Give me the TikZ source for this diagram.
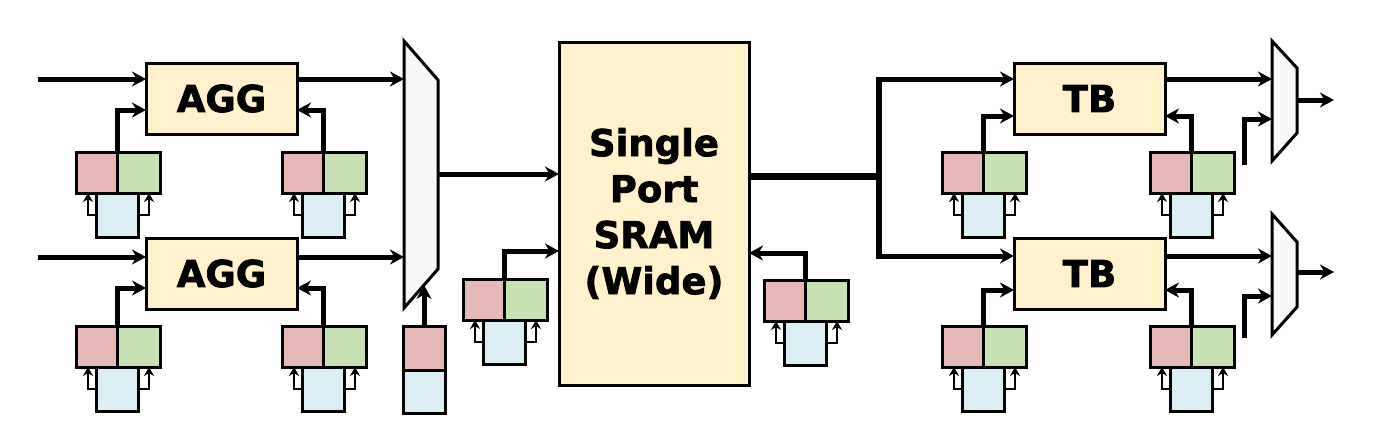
\documentclass[tikz,border=0pt]{standalone}
\usepackage{fontspec}
\setmainfont{DejaVu Sans}[BoldFeatures={FakeBold=2}]
\usetikzlibrary{calc,arrows.meta}
\definecolor{boxy}{HTML}{FFF2CC}
\definecolor{cred}{HTML}{E6B9B8}
\definecolor{cgreen}{HTML}{C7E0B4}
\definecolor{cblue}{HTML}{DAEEF3}
\definecolor{muxfill}{HTML}{F8F8F8}
\tikzset{
  base/.style={draw, line width=3pt, inner sep=0pt, outer sep=0pt, anchor=north west},
  blockbox/.style={base, fill=boxy, minimum width=151pt, minimum height=71pt, font=\bfseries\fontsize{37}{44}\selectfont},
  srambox/.style={base, fill=boxy, minimum width=190pt, minimum height=343pt, align=center, font=\bfseries\fontsize{37}{46}\selectfont},
  cellr/.style={base, fill=cred, minimum width=41pt, minimum height=41pt},
  cellg/.style={base, fill=cgreen, minimum width=43pt, minimum height=41pt},
  cellb/.style={base, fill=cblue, minimum width=42pt, minimum height=44pt},
  muxst/.style={draw, line width=3pt, fill=muxfill, line join=miter},
  arr/.style={line width=5pt, -{Stealth[length=14pt,width=15pt,inset=4.5pt]}},
  bigline/.style={line width=7pt},
  sarr/.style={line width=2.5pt, -{Stealth[length=9pt,width=10pt,inset=3pt]}},
}
\newcommand\cgrp[3]{%
  \node[cellr] (#1r) at (#2,#3) {};
  \node[cellg] (#1g) at (#1r.north east) {};
  \node[cellb] (#1b) at ($(#1r.south west)+(20,0)$) {};
  \draw[sarr] (#1b.west) -| ($(#1r.south west)+(12,0)$);
  \draw[sarr] (#1b.east) -| ($(#1g.south east)+(-11,0)$);
}
\begin{document}
\begin{tikzpicture}[x=1pt,y=-1pt]
\useasboundingbox (0,0) rectangle (1377,442);
% blocks
\node[blockbox] (agg1) at (146,63) {AGG};
\node[blockbox] (agg2) at (146,238) {AGG};
\node[blockbox] (tb1) at (1014,63) {TB};
\node[blockbox] (tb2) at (1014,238) {TB};
\node[srambox] (sram) at (559,42) {Single\\Port\\SRAM\\(Wide)};
% muxes
\draw[muxst] (404,41) -- (438,80) -- (438,269) -- (404,308) -- cycle;
\draw[muxst] (1272,41) -- (1297,68) -- (1297,133) -- (1272,161) -- cycle;
\draw[muxst] (1272,214) -- (1297,242) -- (1297,307) -- (1272,335) -- cycle;
\coordinate (m1a) at (404,79);
\coordinate (m1b) at (404,257);
\coordinate (m1o) at (438,174);
\coordinate (m1s) at (424,285);
\coordinate (m2a) at (1272,79);
\coordinate (m2b) at (1272,119);
\coordinate (m2o) at (1297,100);
\coordinate (m3a) at (1272,256);
\coordinate (m3b) at (1272,296);
\coordinate (m3o) at (1297,272);
% free ends
\coordinate (in1) at (38,79);
\coordinate (in2) at (38,257);
\coordinate (out1) at (1334,100);
\coordinate (out2) at (1334,272);
\coordinate (s2) at (1244,165);
\coordinate (s3) at (1244,338);
\coordinate (split) at (879,176);
% cell groups
\cgrp{aal}{76}{152}
\cgrp{aar}{282}{152}
\cgrp{abl}{76}{326}
\cgrp{abr}{282}{326}
\cgrp{sl}{463}{279}
\cgrp{sr}{764}{280}
\cgrp{tal}{942}{152}
\cgrp{tar}{1150}{152}
\cgrp{tbl}{942}{326}
\cgrp{tbr}{1150}{326}
\node[base, fill=cred, minimum width=42pt, minimum height=44pt] (msr) at (403,326) {};
\node[base, fill=cblue, minimum width=42pt, minimum height=43pt] (msb) at (msr.south west) {};
% connectors
\draw[arr] (in1) -- (in1 -| agg1.west);
\draw[arr] (in2) -- (in2 -| agg2.west);
\draw[arr] (m1a -| agg1.east) -- (m1a);
\draw[arr] (m1b -| agg2.east) -- (m1b);
\draw[arr] (aalr.north east) |- ($(agg1.north west)+(0,47)$);
\draw[arr] (aarr.north east) |- ($(agg1.north east)+(0,47)$);
\draw[arr] (ablr.north east) |- ($(agg2.north west)+(0,50)$);
\draw[arr] (abrr.north east) |- ($(agg2.north east)+(0,50)$);
\draw[arr] (msr.north) -- (m1s);
\draw[arr] (m1o) -- (m1o -| sram.west);
\draw[arr] (slr.north east) |- ($(sram.north west)+(0,209)$);
\draw[arr] (srr.north east) |- ($(sram.north east)+(0,211)$);
\draw[bigline] (split -| sram.east) -- ($(split)+(3,0)$);
\draw[line width=6pt] (879,76.5) -- (879,258.5);
\draw[arr] (879,79) -- (tb1.west |- 879,79);
\draw[arr] (879,256) -- (tb2.west |- 879,256);
\draw[arr] (talr.north east) |- ($(tb1.north west)+(0,53)$);
\draw[arr] (tarr.north east) |- ($(tb1.north east)+(0,53)$);
\draw[arr] (tblr.north east) |- ($(tb2.north west)+(0,52)$);
\draw[arr] (tbrr.north east) |- ($(tb2.north east)+(0,52)$);
\draw[arr] (m2a -| tb1.east) -- (m2a);
\draw[arr] (m3a -| tb2.east) -- (m3a);
\draw[arr] (s2) |- (m2b);
\draw[arr] (s3) |- (m3b);
\draw[arr] (m2o) -- (out1);
\draw[arr] (m3o) -- (out2);
\end{tikzpicture}
\end{document}
